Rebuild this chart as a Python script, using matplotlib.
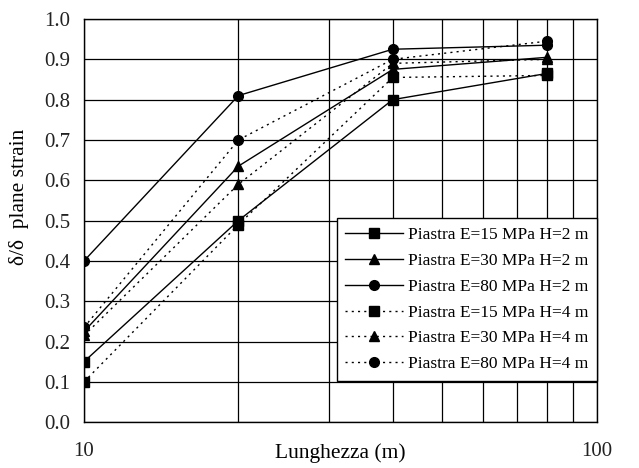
import numpy as np
import matplotlib
matplotlib.use("Agg")
import matplotlib.pyplot as plt
from matplotlib.ticker import FixedLocator, NullFormatter

plt.rcParams['font.family'] = ['Liberation Serif', 'DejaVu Serif']

# lunghezza della piastra (m)
lunghezza = [10, 20, 40, 80]

# rapporto delta / delta plane strain
e15_h2 = [0.15, 0.50, 0.80, 0.865]
e30_h2 = [0.225, 0.635, 0.875, 0.905]
e80_h2 = [0.40, 0.81, 0.925, 0.935]
e15_h4 = [0.10, 0.49, 0.855, 0.86]
e30_h4 = [0.215, 0.59, 0.89, 0.90]
e80_h4 = [0.235, 0.70, 0.90, 0.945]

serie = [
    ("Piastra E=15 MPa H=2 m", e15_h2, 's', '-'),
    ("Piastra E=30 MPa H=2 m", e30_h2, '^', '-'),
    ("Piastra E=80 MPa H=2 m", e80_h2, 'o', '-'),
    ("Piastra E=15 MPa H=4 m", e15_h4, 's', (0, (1.5, 3))),
    ("Piastra E=30 MPa H=4 m", e30_h4, '^', (0, (1.5, 3))),
    ("Piastra E=80 MPa H=4 m", e80_h4, 'o', (0, (1.5, 3))),
]

fig = plt.figure(figsize=(6.39, 4.68), dpi=100)
ax = fig.add_axes([0.1315, 0.098, 0.8025, 0.8614])

for nome, y, mk, ls in serie:
    ax.plot(lunghezza, y, color='k', lw=1.0, ls=ls, marker=mk,
            markersize=7, label=nome)

ax.set_xscale('log')
ax.set_xlim(10, 100)
ax.set_ylim(0, 1.0)
ax.xaxis.set_major_locator(FixedLocator([10, 100]))
ax.xaxis.set_minor_locator(FixedLocator(range(20, 100, 10)))
ax.xaxis.set_minor_formatter(NullFormatter())
ax.set_xticklabels(['10', '100'])
ax.set_yticks(np.arange(0, 1.01, 0.1))
ax.set_yticklabels(['%.1f' % v for v in np.arange(0, 1.01, 0.1)])

ax.grid(True, which='both', color='k', lw=0.9)
ax.tick_params(which='both', length=0, labelsize=15, colors='#222222')
ax.tick_params(axis='x', pad=14)
ax.tick_params(axis='y', pad=10)
for s in ax.spines.values():
    s.set_color('k')
    s.set_linewidth(1.0)

ax.set_xlabel("Lunghezza (m)", fontsize=15.5)
ax.xaxis.set_label_coords(0.5, -0.052)
ax.set_ylabel("δ/δ  plane strain", fontsize=15.5)
ax.yaxis.set_label_coords(-0.107, 0.56)

leg = ax.legend(loc='upper right', bbox_to_anchor=(1.0, 0.506),
                borderaxespad=0, fancybox=False, framealpha=1,
                edgecolor='k', fontsize=12.5, handlelength=3.3,
                labelspacing=0.56, handletextpad=0.3, borderpad=0.5)
leg.get_frame().set_linewidth(1.0)

fig.savefig("out.png", dpi=100)
